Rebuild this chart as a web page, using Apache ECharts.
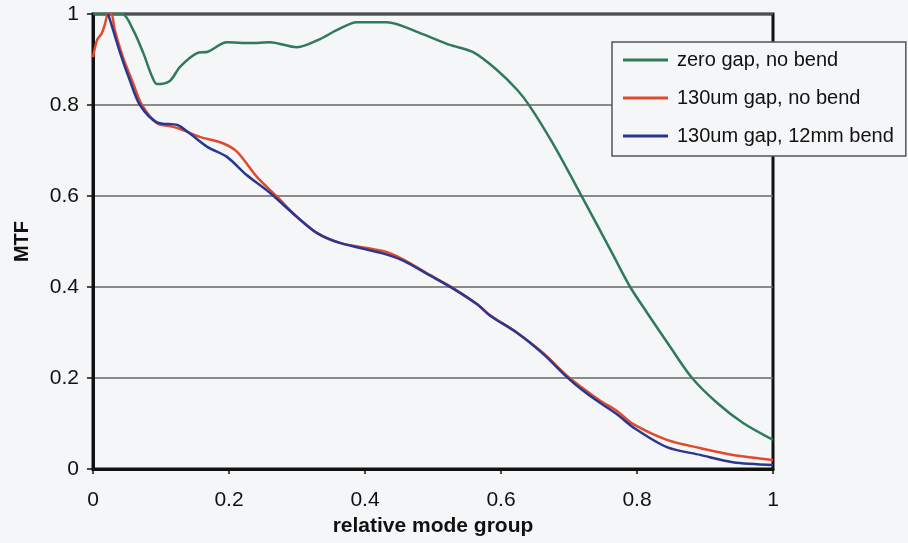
<!DOCTYPE html>
<html>
<head>
<meta charset="utf-8">
<script src="https://cdn.jsdelivr.net/npm/echarts@6/dist/echarts.min.js"></script>
<style>
html,body{margin:0;padding:0;background:#f5f6f8;}
#chart{width:908px;height:543px;}
</style>
</head>
<body>
<div id="chart"></div>
<script>
// series names
var names = ['zero gap, no bend', '130um gap, no bend', '130um gap, 12mm bend'];
var colors = ['#2f7a5a', '#e14a2c', '#2a3791'];

// zero gap, no bend
var greenX = [0, 0.02, 0.043, 0.059, 0.074, 0.087, 0.094, 0.113, 0.128, 0.153, 0.169, 0.197, 0.231, 0.26, 0.30, 0.334, 0.359, 0.388, 0.432, 0.481, 0.525, 0.559, 0.594, 0.624, 0.643, 0.676, 0.716, 0.765, 0.790, 0.815, 0.849, 0.881, 0.918, 0.956, 1.0];
var greenY = [1, 1, 1, 0.965, 0.914, 0.862, 0.846, 0.853, 0.884, 0.914, 0.917, 0.938, 0.936, 0.938, 0.927, 0.945, 0.965, 0.982, 0.982, 0.958, 0.932, 0.916, 0.877, 0.833, 0.796, 0.716, 0.607, 0.47, 0.40, 0.343, 0.268, 0.20, 0.145, 0.101, 0.064];

// 130um gap, no bend
var redX = [0, 0.006, 0.013, 0.018, 0.022, 0.027, 0.032, 0.044, 0.059, 0.072, 0.094, 0.118, 0.132, 0.157, 0.191, 0.212, 0.241, 0.271, 0.30, 0.329, 0.363, 0.426, 0.456, 0.496, 0.529, 0.565, 0.584, 0.624, 0.662, 0.697, 0.72, 0.746, 0.771, 0.794, 0.844, 0.893, 0.941, 1.0];
var redY = [0.905, 0.943, 0.958, 0.98, 1.0, 1.0, 0.965, 0.905, 0.848, 0.80, 0.76, 0.752, 0.745, 0.73, 0.716, 0.697, 0.642, 0.598, 0.554, 0.519, 0.497, 0.479, 0.461, 0.426, 0.398, 0.362, 0.338, 0.299, 0.255, 0.205, 0.178, 0.15, 0.127, 0.099, 0.064, 0.046, 0.031, 0.020];

// 130um gap, 12mm bend
var blueX = [0.022, 0.025, 0.040, 0.054, 0.069, 0.094, 0.124, 0.14, 0.168, 0.197, 0.226, 0.26, 0.30, 0.329, 0.363, 0.426, 0.456, 0.496, 0.529, 0.565, 0.584, 0.624, 0.662, 0.697, 0.72, 0.746, 0.771, 0.794, 0.844, 0.893, 0.941, 1.0];
var blueY = [1.0, 0.987, 0.914, 0.855, 0.80, 0.762, 0.756, 0.74, 0.708, 0.686, 0.646, 0.607, 0.554, 0.519, 0.497, 0.474, 0.458, 0.425, 0.397, 0.362, 0.337, 0.299, 0.253, 0.202, 0.173, 0.145, 0.120, 0.092, 0.048, 0.031, 0.015, 0.009];

function pairs(xs, ys){
	var out = [];
	for(var i=0;i<xs.length;i++){
		out.push([xs[i], ys[i]]);
	}
	return out;
}

var seriesData = [pairs(greenX, greenY), pairs(redX, redY), pairs(blueX, blueY)];
var font = '"Liberation Sans", Arial, sans-serif';

var series = [];
for(var i=0;i<3;i++){
	series.push({
		name:names[i],
		type:'line',
		data:seriesData[i],
		smooth:0.3,
		showSymbol:false,
		clip:true,
		lineStyle:{color:colors[i], width:2.5},
		itemStyle:{color:colors[i]}
	});
}

var myChart = echarts.init(document.getElementById('chart'), null, {renderer:'canvas'});
var option = {
	backgroundColor:'#f5f6f8',
	animation:false,
	grid:{
		left:93, right:135, top:14, bottom:74,
		show:true,
		borderColor:'#111',
		borderWidth:3
	},
	legend:{
		orient:'vertical',
		left:612, top:42,
		data:names,
		icon:'rect',
		itemWidth:45,
		itemHeight:3,
		itemGap:16,
		padding:[7, 12, 9, 11],
		backgroundColor:'#f5f6f8',
		borderColor:'#555',
		borderWidth:1.5,
		borderRadius:0,
		textStyle:{fontFamily:font, fontSize:20, color:'#111', lineHeight:22, padding:[0, 0, 0, 4]}
	},
	xAxis:{
		type:'value',
		min:0, max:1, interval:0.2,
		name:'relative mode group',
		nameLocation:'middle',
		nameGap:45,
		nameTextStyle:{fontFamily:font, fontSize:21, fontWeight:'bold', color:'#111'},
		axisLine:{show:true, lineStyle:{color:'#111', width:3}},
		axisTick:{show:true, length:5, lineStyle:{color:'#111', width:1.5}},
		axisLabel:{fontFamily:font, fontSize:21, color:'#111', margin:21},
		splitLine:{show:false}
	},
	yAxis:{
		type:'value',
		min:0, max:1, interval:0.2,
		name:'MTF',
		nameLocation:'middle',
		nameGap:61,
		nameTextStyle:{fontFamily:font, fontSize:20, fontWeight:'bold', color:'#111'},
		axisLine:{show:true, lineStyle:{color:'#111', width:3}},
		axisTick:{show:true, length:6, lineStyle:{color:'#111', width:1.5}},
		axisLabel:{fontFamily:font, fontSize:21, color:'#111', margin:14},
		splitLine:{show:true, lineStyle:{color:'#666', width:1.5}}
	},
	series:series
};
myChart.setOption(option);
</script>
</body>
</html>
